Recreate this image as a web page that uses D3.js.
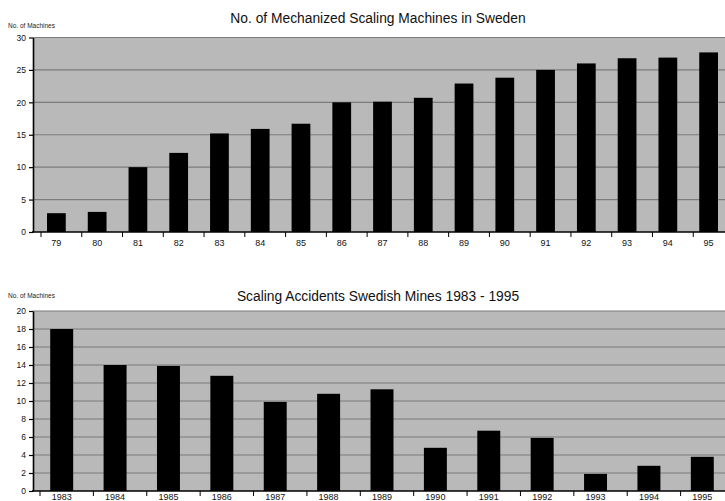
<!DOCTYPE html>
<html>
<head>
<meta charset="utf-8">
<script src="https://cdn.jsdelivr.net/npm/d3@7"></script>
<style>
  body { margin: 0; background: #fff; }
  svg { display: block; font-family: "Liberation Sans", Arial, sans-serif; }
</style>
</head>
<body>
<svg></svg>
<script>
var width = 725;
var height = 501;

// Chart 1 - mechanized scaling machines
var machineYears = ["79", "80", "81", "82", "83", "84", "85", "86", "87",
                    "88", "89", "90", "91", "92", "93", "94", "95"];
var machineCounts = [2.9, 3.1, 10.0, 12.2, 15.2, 15.9, 16.7, 20.0, 20.1,
                     20.7, 22.9, 23.8, 25.0, 26.0, 26.8, 26.9, 27.7];
var machineTicks = [0, 5, 10, 15, 20, 25, 30];

// Chart 2 - scaling accidents
var accidentYears = ["1983", "1984", "1985", "1986", "1987", "1988", "1989",
                     "1990", "1991", "1992", "1993", "1994", "1995"];
var accidentCounts = [18.0, 14.0, 13.9, 12.8, 9.9, 10.8, 11.3,
                      4.8, 6.7, 5.9, 1.9, 2.8, 3.8];
var accidentTicks = [0, 2, 4, 6, 8, 10, 12, 14, 16, 18, 20];

var svg = d3.select("svg")
            .attr("width", width)
            .attr("height", height);

function drawChart(opts) {
  var g = svg.append("g");

  var xScale = d3.scaleBand()
                 .domain(opts.categories)
                 .range([opts.x0, opts.x1])
                 .paddingInner(opts.pad)
                 .paddingOuter(opts.pad / 2);

  var yScale = d3.scaleLinear()
                 .domain([0, d3.max(opts.ticks)])
                 .range([opts.bottom, opts.top]);

  // plot background
  g.append("rect")
    .attr("x", opts.left)
    .attr("y", yScale(d3.max(opts.ticks)))
    .attr("width", width - opts.left)
    .attr("height", opts.bottom - opts.top)
    .attr("fill", "#b9b9b9");

  // gridlines
  g.selectAll(".grid")
    .data(opts.ticks.filter(d => d > 0))
    .enter()
    .append("line")
      .attr("x1", opts.left)
      .attr("x2", width)
      .attr("y1", d => yScale(d))
      .attr("y2", d => yScale(d))
      .attr("stroke", "#7c7c7c")
      .attr("stroke-width", 1.2);

  // bars
  g.selectAll(".bar")
    .data(opts.values)
    .enter()
    .append("rect")
      .attr("x", (d, i) => xScale(opts.categories[i]))
      .attr("y", d => yScale(d))
      .attr("width", xScale.bandwidth())
      .attr("height", d => opts.bottom - yScale(d))
      .attr("fill", "#000");

  // y axis
  var yAxis = d3.axisLeft(yScale)
                .tickValues(opts.ticks)
                .tickSize(4)
                .tickSizeOuter(0)
                .tickPadding(3);

  var ya = g.append("g")
    .attr("transform", "translate(" + opts.left + ",0)")
    .call(yAxis);
  ya.select(".domain").attr("stroke", "#000").attr("stroke-width", 1.6);
  ya.selectAll(".tick line").attr("stroke", "#000").attr("stroke-width", 1.2);
  ya.selectAll("text")
    .attr("font-size", "8.5px")
    .attr("font-family", "Liberation Sans, Arial, sans-serif")
    .attr("fill", "#111");

  // x axis baseline
  g.append("line")
    .attr("x1", opts.left - 1)
    .attr("x2", width)
    .attr("y1", opts.bottom)
    .attr("y2", opts.bottom)
    .attr("stroke", "#000")
    .attr("stroke-width", 1.6);

  // x ticks at band boundaries
  var step = xScale.step();
  g.selectAll(".xtick")
    .data(opts.categories)
    .enter()
    .append("line")
      .attr("x1", d => xScale(d) - step * opts.pad / 2 + 5)
      .attr("x2", d => xScale(d) - step * opts.pad / 2 + 5)
      .attr("y1", opts.bottom)
      .attr("y2", opts.bottom + 5)
      .attr("stroke", "#000")
      .attr("stroke-width", 1);

  // x labels
  g.selectAll(".xlabel")
    .data(opts.categories)
    .enter()
    .append("text")
      .attr("x", d => xScale(d) + xScale.bandwidth() / 2)
      .attr("y", opts.labelY)
      .attr("text-anchor", "middle")
      .attr("font-size", "9px")
      .attr("fill", "#111")
      .text(d => d);

  // title
  g.append("text")
    .attr("x", 378)
    .attr("y", opts.titleY)
    .attr("text-anchor", "middle")
    .attr("font-size", "13.8px")
    .attr("fill", "#111")
    .text(opts.title);

  // y axis caption
  g.append("text")
    .attr("x", 8)
    .attr("y", opts.captionY)
    .attr("font-size", "6.5px")
    .attr("fill", "#222")
    .text("No. of Machines");
}

drawChart({
  categories: machineYears,
  values: machineCounts,
  ticks: machineTicks,
  left: 33,
  x0: 36,
  x1: 729,
  pad: 0.54,
  top: 37.5,
  bottom: 232,
  labelY: 245.5,
  title: "No. of Mechanized Scaling Machines in Sweden",
  titleY: 22.5,
  captionY: 27.5
});

drawChart({
  categories: accidentYears,
  values: accidentCounts,
  ticks: accidentTicks,
  left: 33,
  x0: 35,
  x1: 729,
  pad: 0.57,
  top: 311,
  bottom: 491,
  labelY: 499.5,
  title: "Scaling Accidents Swedish Mines 1983 - 1995",
  titleY: 300.5,
  captionY: 298
});
</script>
</body>
</html>
